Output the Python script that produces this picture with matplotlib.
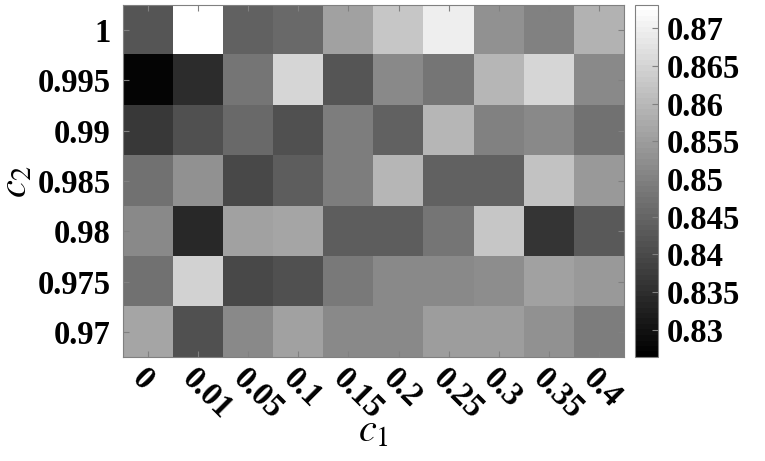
import numpy as np
import matplotlib
matplotlib.use('Agg')
from matplotlib import pyplot as plt

# Data (rows top -> bottom: c2 = 1 ... 0.97, columns: c1 values)
c1_labels = ['0', '0.01', '0.05', '0.1', '0.15', '0.2', '0.25', '0.3', '0.35', '0.4']
c2_labels = ['1', '0.995', '0.99', '0.985', '0.98', '0.975', '0.97']

row_1     = [0.8420, 0.8731, 0.8440, 0.8460, 0.8562, 0.8623, 0.8700, 0.8528, 0.8498, 0.8592]
row_0995  = [0.8273, 0.8346, 0.8478, 0.8652, 0.8420, 0.8517, 0.8478, 0.8595, 0.8652, 0.8513]
row_099   = [0.8367, 0.8410, 0.8454, 0.8414, 0.8493, 0.8440, 0.8595, 0.8498, 0.8517, 0.8469]
row_0985  = [0.8469, 0.8531, 0.8396, 0.8436, 0.8493, 0.8595, 0.8443, 0.8440, 0.8621, 0.8546]
row_098   = [0.8513, 0.8341, 0.8557, 0.8566, 0.8436, 0.8436, 0.8478, 0.8625, 0.8361, 0.8425]
row_0975  = [0.8469, 0.8645, 0.8396, 0.8414, 0.8487, 0.8517, 0.8517, 0.8524, 0.8557, 0.8542]
row_097   = [0.8566, 0.8414, 0.8517, 0.8561, 0.8517, 0.8517, 0.8550, 0.8550, 0.8528, 0.8495]

cbar_ticks = [0.83, 0.835, 0.84, 0.845, 0.85, 0.855, 0.86, 0.865, 0.87]
vmin, vmax = 0.8264, 0.8731

values = np.array([row_1, row_0995, row_099, row_0985, row_098, row_0975, row_097])

plt.rcParams['font.family'] = 'Liberation Serif'
plt.rcParams['mathtext.fontset'] = 'stix'

W, H = 765, 461
fig = plt.figure(figsize=(W / 100, H / 100), dpi=100, facecolor='white')
ax = fig.add_axes([123 / W, 1 - 357 / H, 501 / W, 352 / H])
cax = fig.add_axes([635 / W, 1 - 357 / H, 23 / W, 352 / H])

im = ax.imshow(values, cmap=plt.get_cmap('gray', 64), vmin=vmin, vmax=vmax,
               aspect='auto', interpolation='nearest')

edge = '#808080'
for s in ax.spines.values():
    s.set_color(edge)
    s.set_linewidth(0.8)

ax.set_xticks(np.arange(len(c1_labels)))
ax.set_yticks(np.arange(len(c2_labels)))
ax.set_yticklabels(c2_labels, fontsize=23.5, fontweight='bold')
ax.set_xticklabels(c1_labels, fontsize=23.5, fontweight='bold', rotation=-45,
                   ha='left', va='top', rotation_mode='anchor')
ax.tick_params(axis='both', direction='in', length=4, color=edge,
               top=True, right=True, width=0.8)
ax.tick_params(axis='y', pad=9)
ax.tick_params(axis='x', pad=4)

ax.set_xlabel('$c_1$', fontsize=29, labelpad=-8)
ax.set_ylabel('$c_2$', fontsize=29, labelpad=1)

cb = fig.colorbar(im, cax=cax, ticks=cbar_ticks)
cb.ax.set_yticklabels([('%g' % t) for t in cbar_ticks], fontsize=23.5, fontweight='bold')
cb.ax.tick_params(direction='in', length=4, color=edge, width=0.8, pad=6)
cb.outline.set_edgecolor(edge)
cb.outline.set_linewidth(0.8)

fig.savefig('out.png', dpi=100)
